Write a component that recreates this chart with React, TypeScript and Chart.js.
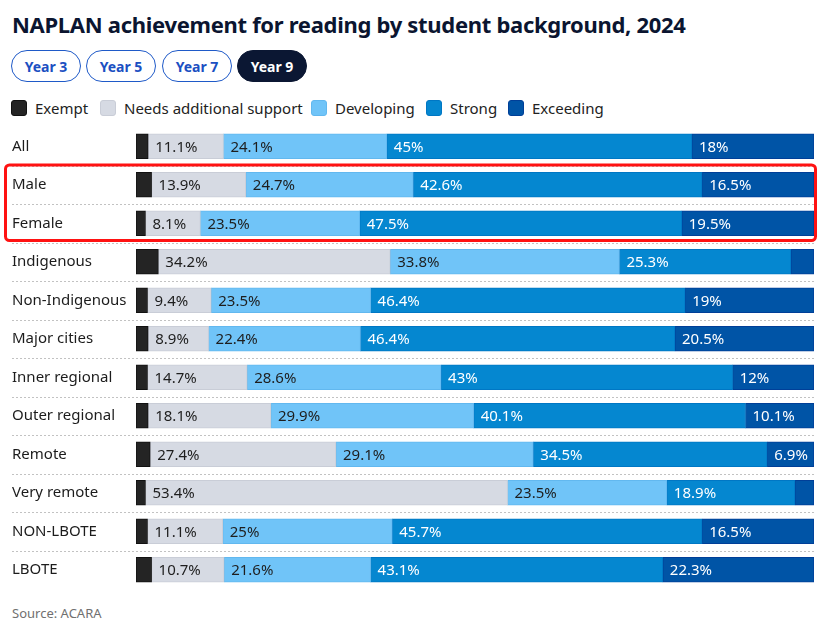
import React, { useEffect, useRef } from "react";
import { Chart, registerables } from "chart.js";

Chart.register(...registerables);

const categories = [
  "All",
  "Male",
  "Female",
  "Indigenous",
  "Non-Indigenous",
  "Major cities",
  "Inner regional",
  "Outer regional",
  "Remote",
  "Very remote",
  "NON-LBOTE",
  "LBOTE",
];
const exempt = [1.8, 2.3, 1.4, 3.3, 1.7, 1.8, 1.7, 1.8, 2.1, 1.4, 1.7, 2.3];
const needsSupport = [11.1, 13.9, 8.1, 34.2, 9.4, 8.9, 14.7, 18.1, 27.4, 53.4, 11.1, 10.7];
const developing = [24.1, 24.7, 23.5, 33.8, 23.5, 22.4, 28.6, 29.9, 29.1, 23.5, 25, 21.6];
const strong = [45, 42.6, 47.5, 25.3, 46.4, 46.4, 43, 40.1, 34.5, 18.9, 45.7, 43.1];
const exceeding = [18, 16.5, 19.5, 3.4, 19, 20.5, 12, 10.1, 6.9, 2.8, 16.5, 22.3];
const seriesNames = ["Exempt", "Needs additional support", "Developing", "Strong", "Exceeding"];
const yearTabs = ["Year 3", "Year 5", "Year 7", "Year 9"];
const activeTab = "Year 9";
const title = "NAPLAN achievement for reading by student background, 2024";
const source = "Source: ACARA";
const highlighted = ["Male", "Female"];

const fills = ["#242424", "#d6dae3", "#70c4f8", "#0587d0", "#0054a6"];
const borders = ["#111111", "#c9cdd7", "#62b8ef", "#0077c4", "#003f98"];
const labelColors = ["#1e1e1e", "#1e1e1e", "#1e1e1e", "#ffffff", "#ffffff"];
const FONT = "'Noto Sans', sans-serif";

const overlayPlugin = {
  id: "overlay",
  beforeDatasetsDraw(chart: any) {
    const { ctx, chartArea, scales } = chart;
    const y = scales.y;
    ctx.save();
    ctx.strokeStyle = "#c2c2c2";
    ctx.lineWidth = 1;
    ctx.setLineDash([2, 2]);
    for (let i = 0; i < categories.length - 1; i++) {
      const yy = Math.round((y.getPixelForValue(i) + y.getPixelForValue(i + 1)) / 2) + 0.5;
      ctx.beginPath();
      ctx.moveTo(12, yy);
      ctx.lineTo(chartArea.right, yy);
      ctx.stroke();
    }
    ctx.restore();
  },
  afterDatasetsDraw(chart: any) {
    const { ctx } = chart;
    ctx.save();
    ctx.font = `15px ${FONT}`;
    ctx.textBaseline = "middle";
    ctx.textAlign = "left";
    chart.data.datasets.forEach((ds: any, di: number) => {
      const meta = chart.getDatasetMeta(di);
      meta.data.forEach((el: any, i: number) => {
        const v = ds.data[i];
        if (v < 5) return;
        const start = Math.min(el.base, el.x);
        ctx.fillStyle = labelColors[di];
        ctx.fillText(`${v}%`, start + 7, el.y + 1);
      });
    });
    ctx.restore();
  },
  afterDraw(chart: any) {
    const { ctx, scales } = chart;
    const y = scales.y;
    const first = categories.indexOf(highlighted[0]);
    const last = categories.indexOf(highlighted[highlighted.length - 1]);
    const top = (y.getPixelForValue(first - 1) + y.getPixelForValue(first)) / 2 - 0.5;
    const bottom = (y.getPixelForValue(last) + y.getPixelForValue(last + 1)) / 2 - 2;
    ctx.save();
    ctx.strokeStyle = "#ff1212";
    ctx.lineWidth = 3;
    ctx.beginPath();
    ctx.roundRect(5.5, top, 810, bottom - top, 4);
    ctx.stroke();
    ctx.restore();
  },
};

const CANVAS_TOP = 113;
const CANVAS_H = 490;

function BarChart() {
  const ref = useRef<HTMLCanvasElement | null>(null);
  useEffect(() => {
    if (!ref.current) return;
    const series = [exempt, needsSupport, developing, strong, exceeding];
    const chart = new Chart(ref.current, {
      type: "bar",
      data: {
        labels: categories,
        datasets: series.map((d, i) => ({
          label: seriesNames[i],
          data: d,
          backgroundColor: fills[i],
          borderColor: borders[i],
          borderWidth: 1,
          borderSkipped: false,
          barThickness: 25,
        })),
      },
      options: {
        indexAxis: "y",
        animation: false,
        responsive: false,
        maintainAspectRatio: false,
        layout: { padding: { left: 12, right: 5, top: 14, bottom: 14 } },
        plugins: {
          legend: { display: false },
          tooltip: { enabled: false },
        },
        scales: {
          x: { stacked: true, min: 0, max: 100, display: false },
          y: {
            stacked: true,
            grid: { display: false },
            border: { display: false },
            ticks: {
              crossAlign: "far",
              color: "#1c1c1c",
              font: { family: FONT, size: 15 },
            },
            afterFit: (scale: any) => {
              scale.width = 124;
            },
          },
        },
      },
      plugins: [overlayPlugin],
    } as any);
    return () => chart.destroy();
  }, []);
  return (
    <canvas
      ref={ref}
      width={819}
      height={CANVAS_H}
      style={{ position: "absolute", left: 0, top: CANVAS_TOP, width: 819, height: CANVAS_H }}
    />
  );
}

export default function App() {
  const tabLefts = [11, 86, 162, 237];
  const legendLefts = [11, 100, 311, 426, 508];
  return (
    <div style={{ position: "absolute", left: 0, top: 0, width: 819, height: 627, background: "#fff", fontFamily: FONT }}>
      <div
        style={{
          position: "absolute",
          left: 12,
          top: 12,
          fontSize: 22,
          letterSpacing: "-0.3px",
          lineHeight: "24px",
          fontWeight: 700,
          color: "#0b1530",
          whiteSpace: "nowrap",
        }}
      >
        {title}
      </div>
      {yearTabs.map((t, i) => {
        const active = t === activeTab;
        return (
          <div
            key={t}
            style={{
              position: "absolute",
              left: tabLefts[i],
              top: 50,
              width: 70,
              height: 32,
              boxSizing: "border-box",
              borderRadius: 16,
              border: `1.5px solid ${active ? "#0b1733" : "#1f5ac8"}`,
              background: active ? "#0b1733" : "#fff",
              color: active ? "#fff" : "#1b50c2",
              fontWeight: 700,
              fontSize: 14,
              display: "flex",
              alignItems: "center",
              justifyContent: "center",
            }}
          >
            {t}
          </div>
        );
      })}
      {seriesNames.map((n, i) => (
        <div
          key={n}
          style={{ position: "absolute", left: legendLefts[i], top: 99, height: 18, display: "flex", alignItems: "center", whiteSpace: "nowrap" }}
        >
          <span
            style={{
              display: "inline-block",
              width: 16,
              height: 16,
              borderRadius: 3,
              background: fills[i],
              border: `1px solid ${borders[i]}`,
              boxSizing: "border-box",
            }}
          />
          <span style={{ marginLeft: 8, fontSize: 15, color: "#222" }}>{n}</span>
        </div>
      ))}
      <BarChart />
      <div style={{ position: "absolute", left: 12, top: 604, fontSize: 13, color: "#707070" }}>{source}</div>
    </div>
  );
}
